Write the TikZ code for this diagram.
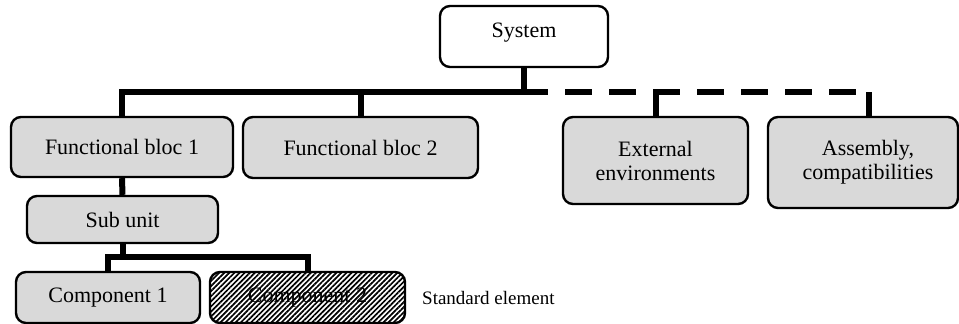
\documentclass[tikz,border=0pt]{standalone}
\usepackage{fontspec}
\setmainfont{Liberation Serif}
\usetikzlibrary{patterns.meta}
\begin{document}
\begin{tikzpicture}[x=1pt,y=-1pt,
  box/.style={draw=black, line width=2.4pt, rounded corners=10pt, fill=black!15,
    font=\fontsize{22}{24}\selectfont, align=center, inner sep=0pt},
  hatched/.style={box, fill=white, pattern={Lines[angle=45, distance=3.6pt, line width=1.7pt]}, pattern color=black},
  conn/.style={draw=black, line width=6pt, line join=miter},
  dashconn/.style={conn, dash pattern=on 27pt off 17pt, dash phase=27pt},
  note/.style={font=\fontsize{19}{21}\selectfont, inner sep=0pt, anchor=west}]
\useasboundingbox (0,0) rectangle (959,324);
% nodes
\node[box, fill=white, minimum width=168pt, minimum height=61pt, text height=15pt, text depth=14pt] (sys) at (524,36.5) {System};
\node[box, minimum width=222pt, minimum height=60pt] (fb1) at (122,147) {Functional bloc 1};
\node[box, minimum width=235pt, minimum height=61pt] (fb2) at (360.5,147.5) {Functional bloc 2};
\node[box, minimum width=185pt, minimum height=87pt] (ext) at (655.5,160.5) {External\\environments};
\node[box, minimum width=190pt, minimum height=91pt] (asm) at (863,162.5) {\hspace*{10pt}Assembly,\\\hspace*{10pt}compatibilities};
\node[box, minimum width=191pt, minimum height=47pt] (sub) at (122.5,219.5) {Sub unit};
\node[box, minimum width=184pt, minimum height=51pt] (c1) at (108,297.5) {Component 1};
\node[hatched, minimum width=195pt, minimum height=51pt] (c2) at (307.5,297.5) {Component 2};
\node[note] (std) at (422,298) {Standard element};
% bus coordinates
\coordinate (busy) at (0,92);
\coordinate (solidend) at (548,92);
\coordinate (asmstem) at ([xshift=6pt]asm.north);
\coordinate (suby) at (0,257);
% connectors
\draw[conn] (fb1.north) |- (solidend);
\draw[conn] (sys.south) -- (sys.south |- busy);
\draw[conn] (fb2.north) -- (fb2.north |- busy);
\draw[dashconn] (solidend) -- (asmstem |- busy);
\draw[conn] (ext.north) -- (ext.north |- busy);
\draw[conn] (asmstem) -- (asmstem |- busy);
\draw[conn] (fb1.south) -- (sub.north);
\draw[conn] (sub.south) -- (sub.south |- suby);
\draw[conn] (c1.north) |- (c2.north |- suby) -- (c2.north);
\end{tikzpicture}
\end{document}
